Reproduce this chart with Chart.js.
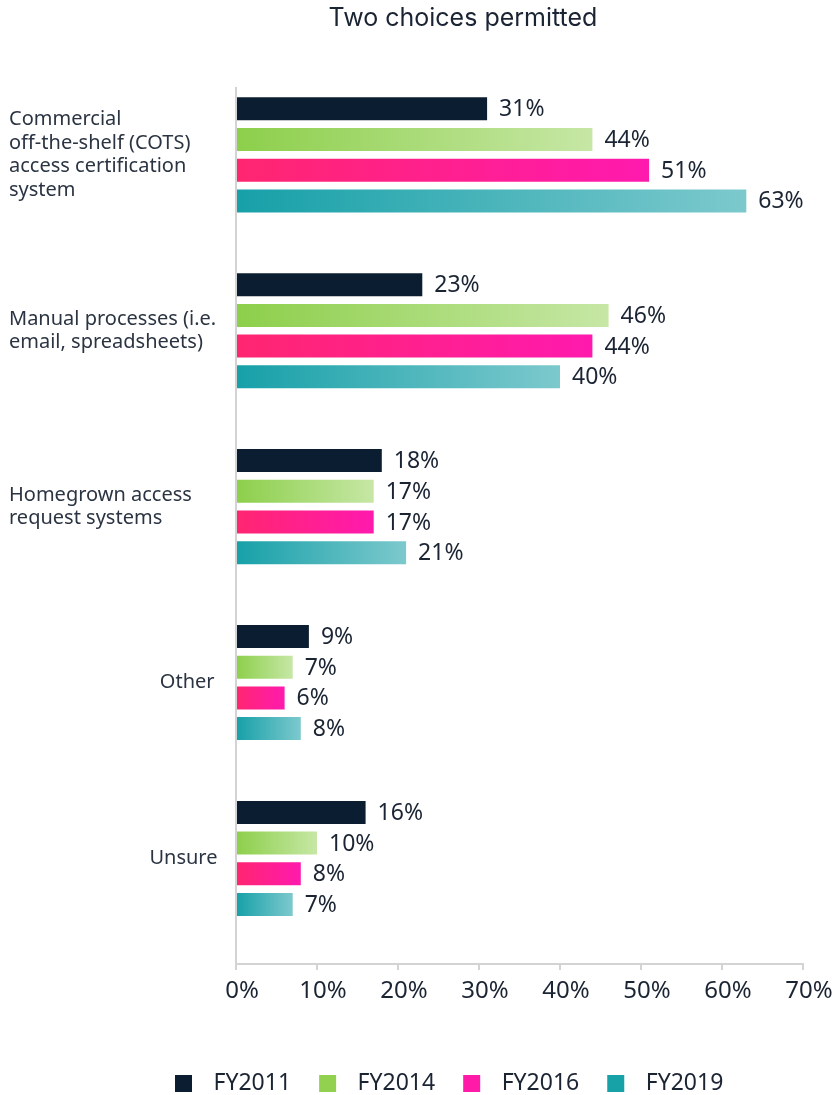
<!DOCTYPE html>
<html>
<head>
<meta charset="utf-8">
<script src="https://cdn.jsdelivr.net/npm/chart.js@4.4.1/dist/chart.umd.min.js"></script>
<style>
  html, body { margin: 0; padding: 0; background: #ffffff; }
  canvas { display: block; }
</style>
</head>
<body>
<canvas id="c" width="836" height="1095"></canvas>
<script>
// ---- data ----
const titleText = "Two choices permitted";
const categories = [
  ["Commercial", "off-the-shelf (COTS)", "access certification", "system"],
  ["Manual processes (i.e.", "email, spreadsheets)"],
  ["Homegrown access", "request systems"],
  "Other",
  "Unsure"
];
const seriesNames = ["FY2011", "FY2014", "FY2016", "FY2019"];
const fy2011 = [31, 23, 18, 9, 16];
const fy2014 = [44, 46, 17, 7, 10];
const fy2016 = [51, 44, 17, 6, 8];
const fy2019 = [63, 40, 21, 8, 7];
const xTicks = [0, 10, 20, 30, 40, 50, 60, 70];

// ---- styles ----
const FONT = "'Noto Sans', sans-serif";
const TEXT = "#1b2433";
const LABEL = "#2b3442";
const AXIS = "#d3d3d3";
const legendColors = ["#0b1e31", "#92d050", "#ff1aa8", "#17a2a8"];
const gradStops = [
  ["#0b1e31", "#0b1e31"],
  ["#8dcf4b", "#c6e7a5"],
  ["#ff2670", "#ff1aae"],
  ["#17a0a8", "#7cc9cd"]
];

function toPoints(arr) { return arr.map((v, i) => ({ x: v, y: i })); }

function gradientFor(idx) {
  return function (ctx) {
    const chart = ctx.chart;
    const s = gradStops[idx];
    if (ctx.type !== 'data' || !chart.chartArea || !chart.scales.x) return s[0];
    const xs = chart.scales.x;
    const x0 = xs.getPixelForValue(0);
    const x1 = xs.getPixelForValue(ctx.raw.x);
    if (Math.abs(x1 - x0) < 1) return s[0];
    const g = chart.ctx.createLinearGradient(x0, 0, x1, 0);
    g.addColorStop(0, s[0]);
    g.addColorStop(1, s[1]);
    return g;
  };
}

// legend marker: transparent lead-in, square, transparent gap
function marker(color) {
  const c = document.createElement('canvas');
  c.width = 53; c.height = 17;
  const g = c.getContext('2d');
  g.fillStyle = color;
  g.fillRect(26, 0, 17, 17);
  return c;
}
const markers = legendColors.map(marker);

const Y_FONT_SIZE = 20;
// measuring for single-line right-aligned labels
const mctx = document.createElement('canvas').getContext('2d');
function padLabel(text) {
  mctx.font = Y_FONT_SIZE + "px " + FONT;
  const w = mctx.measureText(text).width;
  const sp = mctx.measureText(' ').width;
  const n = Math.max(0, Math.round((206 - w) / sp));
  return ' '.repeat(n) + text;
}

const valueLabels = {
  id: 'valueLabels',
  afterDatasetsDraw(chart) {
    const ctx = chart.ctx;
    ctx.save();
    ctx.font = "23px " + FONT;
    ctx.fillStyle = TEXT;
    ctx.textAlign = 'left';
    ctx.textBaseline = 'middle';
    chart.data.datasets.forEach((ds, di) => {
      const meta = chart.getDatasetMeta(di);
      meta.data.forEach((el, i) => {
        ctx.fillText(ds.data[i].x + '%', el.x + 12, el.y + 1);
      });
    });
    ctx.restore();
  }
};

const placeBoxes = {
  id: 'placeBoxes',
  afterLayout(chart) {
    const t = chart.titleBlock;
    if (t) {
      const w = t.right - t.left;
      t.left = 463 - w / 2;
      t.right = 463 + w / 2;
    }
    const l = chart.legend;
    if (l) {
      const w = l.right - l.left;
      l.left = 147;
      l.right = 147 + w;
      l.top += 10;
      l.bottom += 10;
    }
  }
};

const ds = [fy2011, fy2014, fy2016, fy2019].map((arr, i) => ({
  label: seriesNames[i],
  data: toPoints(arr),
  backgroundColor: gradientFor(i),
  borderWidth: 0,
  categoryPercentage: 0.698,
  barPercentage: 0.75
}));

new Chart(document.getElementById('c'), {
  type: 'bar',
  data: { datasets: ds },
  plugins: [valueLabels, placeBoxes],
  options: {
    indexAxis: 'y',
    responsive: false,
    animation: false,
    events: [],
    layout: { padding: { left: 9, right: 33, top: 0, bottom: 0 } },
    scales: {
      x: {
        type: 'linear',
        position: 'bottom',
        min: xTicks[0],
        max: xTicks[xTicks.length - 1],
        afterBuildTicks(scale) { scale.ticks = xTicks.map(v => ({ value: v })); },
        afterFit(scale) { scale.height = 96; },
        ticks: {
          callback: v => v + '%',
          font: { family: FONT, size: 24 },
          color: TEXT,
          padding: 7,
          labelOffset: 6,
          maxRotation: 0,
          autoSkip: false
        },
        grid: {
          display: true,
          drawOnChartArea: false,
          drawTicks: true,
          tickLength: 6,
          color: AXIS,
          lineWidth: 2
        },
        border: { display: true, color: AXIS, width: 2 }
      },
      y: {
        type: 'linear',
        position: 'left',
        reverse: true,
        offset: false,
        min: -0.38,
        max: 4.6,
        afterFit(scale) { scale.width = 227; },
        ticks: {
          stepSize: 1,
          includeBounds: false,
          autoSkip: false,
          crossAlign: 'far',
          font: { family: FONT, size: Y_FONT_SIZE, lineHeight: 1.175 },
          color: LABEL,
          callback: function (value) {
            const i = Math.round(value);
            if (Math.abs(value - i) > 1e-6 || i < 0 || i >= categories.length) return '';
            const lab = categories[i];
            return typeof lab === 'string' ? padLabel(lab) : lab;
          }
        },
        grid: { display: false, offset: false },
        border: { display: true, color: AXIS, width: 2 }
      }
    },
    plugins: {
      title: {
        display: true,
        text: titleText,
        color: TEXT,
        font: { family: "Inter, sans-serif", size: 25, weight: '400', lineHeight: 1.2 },
        padding: { top: 3, bottom: 55 }
      },
      legend: {
        display: true,
        position: 'bottom',
        align: 'start',
        labels: {
          usePointStyle: true,
          pointStyleWidth: 53,
          padding: 2,
          color: TEXT,
          font: { family: FONT, size: 23 },
          generateLabels(chart) {
            return chart.data.datasets.map((d, i) => ({
              text: d.label,
              pointStyle: markers[i],
              fillStyle: legendColors[i],
              strokeStyle: 'rgba(0,0,0,0)',
              lineWidth: 0,
              hidden: false,
              datasetIndex: i,
              fontColor: TEXT
            }));
          }
        }
      },
      tooltip: { enabled: false }
    }
  }
});
</script>
</body>
</html>
